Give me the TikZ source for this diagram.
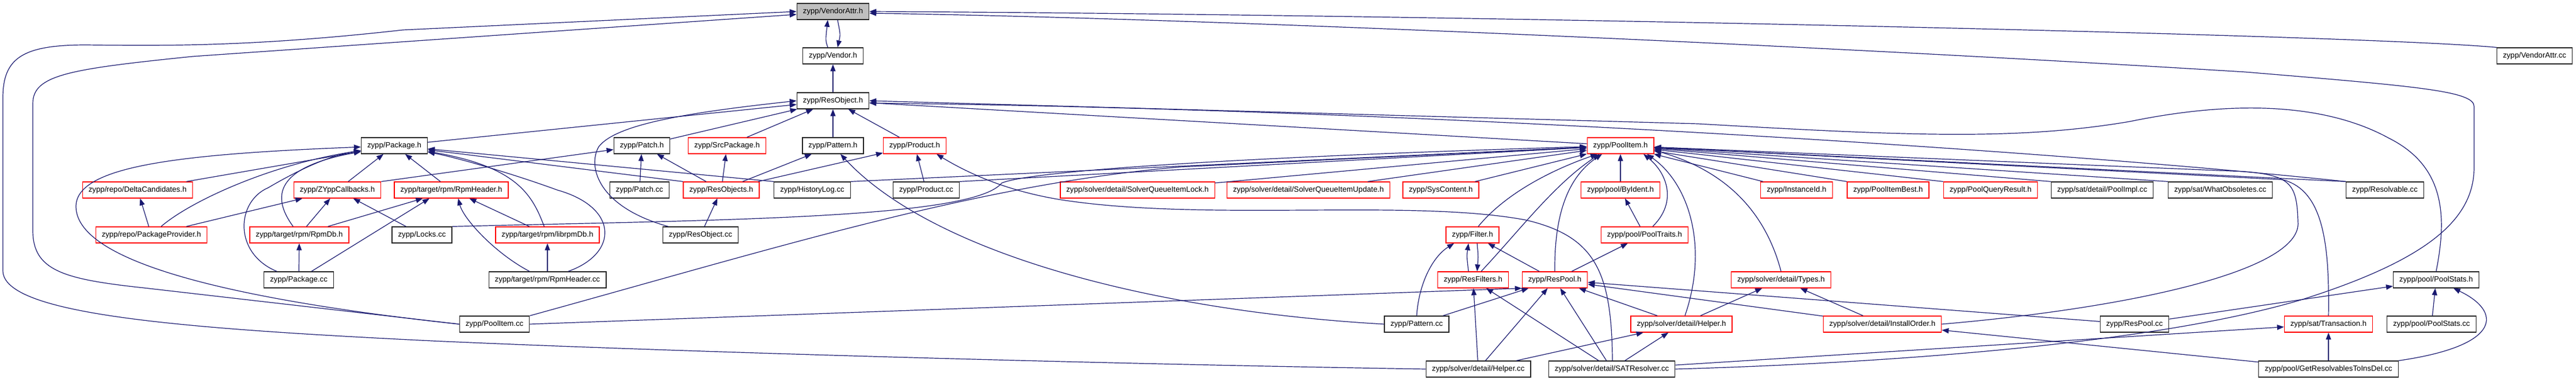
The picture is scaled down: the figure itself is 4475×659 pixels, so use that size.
\documentclass[tikz,border=0pt]{standalone}
\usepackage{fontspec}
\newfontfamily\dxsans{Liberation Sans}
\usetikzlibrary{arrows.meta}
\definecolor{edgeblue}{RGB}{25,25,112}
\definecolor{rootgray}{RGB}{191,191,191}
\tikzset{file/.style={draw=black!85, line width=1.3pt, fill=white,
      minimum height=28pt, inner xsep=10.5pt, inner ysep=0pt,
      font=\dxsans\fontsize{13.2pt}{15pt}\selectfont},
    trunc/.style={file, draw=red},
    root/.style={file, fill=rootgray},
    dep/.style={draw=edgeblue, line width=1.2pt, -{Triangle[length=12pt,width=9pt]}},
    }

\begin{document}
\begin{tikzpicture}[x=1pt,y=-1pt]
	\useasboundingbox (0,0) rectangle (4475,659);
	% row 0-2
	\node[root] (vattrh) at (1447,20) {zypp/VendorAttr.h};
	\node[file] (vendh) at (1447,97) {zypp/Vendor.h};
	\node[file] (vattrcc) at (4403,97) {zypp/VendorAttr.cc};
	\node[file] (resobjh) at (1447,175) {zypp/ResObject.h};
	% row 3
	\node[file] (pkgh) at (685,253) {zypp/Package.h};
	\node[file] (patchh) at (1115,253) {zypp/Patch.h};
	\node[trunc] (srcpkgh) at (1263,253) {zypp/SrcPackage.h};
	\node[file] (patternh) at (1447,253) {zypp/Pattern.h};
	\node[trunc] (producth) at (1589,253) {zypp/Product.h};
	\node[trunc] (poolitemh) at (2815,253) {zypp/PoolItem.h};
	% row 4
	\node[trunc] (deltah) at (239,330) {zypp/repo/DeltaCandidates.h};
	\node[trunc] (zyppcbh) at (586,330) {zypp/ZYppCallbacks.h};
	\node[trunc] (rpmheadh) at (784,330) {zypp/target/rpm/RpmHeader.h};
	\node[file] (patchcc) at (1111,330) {zypp/Patch.cc};
	\node[trunc] (resobjsh) at (1253,330) {zypp/ResObjects.h};
	\node[file] (histcc) at (1411,330) {zypp/HistoryLog.cc};
	\node[file] (productcc) at (1609,330) {zypp/Product.cc};
	\node[trunc] (sqlockh) at (1976,330) {zypp/solver/detail/SolverQueueItemLock.h};
	\node[trunc] (squpdh) at (2273,330) {zypp/solver/detail/SolverQueueItemUpdate.h};
	\node[trunc] (syscontenth) at (2503,330) {zypp/SysContent.h};
	\node[trunc] (byidenth) at (2815,330) {zypp/pool/ByIdent.h};
	\node[trunc] (instidh) at (3121,330) {zypp/InstanceId.h};
	\node[trunc] (pibesth) at (3280,330) {zypp/PoolItemBest.h};
	\node[trunc] (pqresh) at (3458,330) {zypp/PoolQueryResult.h};
	\node[file] (poolimplcc) at (3652,330) {zypp/sat/detail/PoolImpl.cc};
	\node[file] (whatobscc) at (3857,330) {zypp/sat/WhatObsoletes.cc};
	\node[file] (resolvcc) at (4143,330) {zypp/Resolvable.cc};
	% row 5
	\node[trunc] (pkgprovh) at (263,408) {zypp/repo/PackageProvider.h};
	\node[trunc] (rpmdbh) at (520,408) {zypp/target/rpm/RpmDb.h};
	\node[file] (lockscc) at (733,408) {zypp/Locks.cc};
	\node[trunc] (librpmdbh) at (951,408) {zypp/target/rpm/librpmDb.h};
	\node[file] (resobjcc) at (1217,408) {zypp/ResObject.cc};
	\node[trunc] (filterh) at (2558,408) {zypp/Filter.h};
	\node[trunc] (pooltraitsh) at (2857,408) {zypp/pool/PoolTraits.h};
	% row 6
	\node[file] (pkgcc) at (519,486) {zypp/Package.cc};
	\node[file] (rpmheadcc) at (951,486) {zypp/target/rpm/RpmHeader.cc};
	\node[trunc] (resfiltersh) at (2559,486) {zypp/ResFilters.h};
	\node[trunc] (respoolh) at (2701,486) {zypp/ResPool.h};
	\node[trunc] (typesh) at (3094,486) {zypp/solver/detail/Types.h};
	\node[file] (poolstatsh) at (4232,486) {zypp/pool/PoolStats.h};
	% row 7
	\node[file] (poolitemcc) at (859,563) {zypp/PoolItem.cc};
	\node[file] (patterncc) at (2461,563) {zypp/Pattern.cc};
	\node[trunc] (helperh) at (2921,563) {zypp/solver/detail/Helper.h};
	\node[trunc] (installorderh) at (3270,563) {zypp/solver/detail/InstallOrder.h};
	\node[file] (respoolcc) at (3708,563) {zypp/ResPool.cc};
	\node[trunc] (transh) at (4045,563) {zypp/sat/Transaction.h};
	\node[file] (poolstatscc) at (4224,563) {zypp/pool/PoolStats.cc};
	% row 8
	\node[file] (helpercc) at (2568,641) {zypp/solver/detail/Helper.cc};
	\node[file] (satcc) at (2800,641) {zypp/solver/detail/SATResolver.cc};
	\node[file] (getrescc) at (4045,641) {zypp/pool/GetResolvablesToInsDel.cc};

	% VendorAttr.h
	\draw[dep] ([xshift=-9pt]vendh.north) .. controls (1434,70) .. ([xshift=-9pt]vattrh.south);
	\draw[dep] ([xshift=8pt]vattrh.south) .. controls (1460,60) .. ([xshift=8pt]vendh.north);
	\draw[dep] (vattrcc.north west) .. controls (4100,60) and (2500,25) .. (vattrh.east);
	\draw[dep] (poolitemcc.west) -- (250,500) .. controls (110,485) and (57,470) .. (57,400) -- (57,180) .. controls (57,130) and (120,120) .. (335,98) -- ([yshift=-5pt]vattrh.west);
	\draw[dep] (helpercc.west) .. controls (1800,630) and (1100,608) .. (750,592) .. controls (300,570) and (5,545) .. (5,470) -- (5,170) .. controls (5,100) and (40,78) .. (150,78) .. controls (300,80) and (450,80) .. (700,52) -- (vattrh.west);
	\draw[dep] (satcc.east) .. controls (3300,630) and (3750,595) .. (4000,520) .. controls (4220,450) and (4298,380) .. (4298,290) -- (4298,185) .. controls (4298,158) and (4200,150) .. (3900,125) .. controls (3000,70) and (2000,30) .. ([yshift=-3pt]vattrh.east);
	\draw[dep] (resobjh) -- (vendh);

	% ResObject.h
	\draw[dep] (pkgh) -- (resobjh);
	\draw[dep] (patchh) -- (resobjh);
	\draw[dep] (srcpkgh) -- (resobjh);
	\draw[dep] (patternh) -- (resobjh);
	\draw[dep] (producth) -- (resobjh);
	\draw[dep] ([xshift=10pt]resobjcc.north west) .. controls (1040,360) and (1020,290) .. (1040,255) .. controls (1070,215) and (1200,195) .. (resobjh.west);
	\draw[dep] (poolitemh) -- (resobjh);
	\draw[dep] (resolvcc.north west) .. controls (3600,265) and (2500,190) .. ([yshift=-4pt]resobjh.east);
	\draw[dep] (poolstatsh.north) .. controls (4250,380) and (4250,290) .. (4150,240) .. controls (4050,185) and (3900,170) .. (3700,211) .. controls (3500,245) and (3300,235) .. (2950,215) -- (resobjh.east);

	% Package.h
	\draw[dep] (deltah) -- (pkgh);
	\draw[dep] (pkgprovh) .. controls (330,350) and (470,285) .. (pkgh);
	\draw[dep] (zyppcbh) -- (pkgh);
	\draw[dep] (rpmdbh) .. controls (470,340) and (480,290) .. (pkgh);
	\draw[dep] ([xshift=-38pt]pkgcc.north) .. controls (405,440) and (410,350) .. (466,326) .. controls (510,300) and (570,270) .. (pkgh);
	\draw[dep] (rpmheadh) -- (pkgh);
	\draw[dep] (resobjsh.north west) -- (pkgh);
	\draw[dep] (histcc.north west) -- (pkgh);
	\draw[dep] (librpmdbh) .. controls (925,340) and (900,290) .. (pkgh);
	\draw[dep] ([xshift=36pt]rpmheadcc.north) .. controls (1075,440) and (1075,360) .. (968,330) .. controls (900,305) and (800,275) .. (pkgh);
	\draw[dep] (poolitemcc.west) .. controls (400,520) and (135,455) .. (132,360) .. controls (130,290) and (300,268) .. (pkgh);

	% rpm and repo headers
	\draw[dep] (pkgprovh) -- (deltah);
	\draw[dep] (pkgprovh) -- (zyppcbh);
	\draw[dep] (rpmdbh) -- (zyppcbh);
	\draw[dep] (lockscc) -- (zyppcbh);
	\draw[dep] (rpmdbh) -- (rpmheadh);
	\draw[dep] ([xshift=22pt]pkgcc.north) -- ([xshift=-38pt]rpmheadh.south);
	\draw[dep] (librpmdbh) -- (rpmheadh);
	\draw[dep] ([xshift=-31pt]rpmheadcc.north) .. controls (860,440) and (805,380) .. ([xshift=12pt]rpmheadh.south);
	\draw[dep] (pkgcc) -- (rpmdbh);
	\draw[dep] (rpmheadcc) -- (librpmdbh);

	% Patch.h, SrcPackage.h, Pattern.h, Product.h
	\draw[dep] (zyppcbh.north east) -- (patchh);
	\draw[dep] (patchcc) -- (patchh);
	\draw[dep] (resobjsh) -- (patchh);
	\draw[dep] (resobjsh) -- (srcpkgh);
	\draw[dep] (resobjsh) -- (patternh);
	\draw[dep] (resobjsh) -- (producth);
	\draw[dep] (resobjcc) -- (resobjsh);
	\draw[dep] (patterncc.west) .. controls (2000,540) and (1620,440) .. ([xshift=13pt]patternh.south);
	\draw[dep] (productcc) -- (producth);
	\draw[dep] ([xshift=1pt]satcc.north) .. controls (2800,470) and (2770,410) .. (2650,382) .. controls (2450,345) and (2100,385) .. (1850,348) .. controls (1750,333) and (1680,300) .. ([xshift=38pt]producth.south);

	% PoolItem.h
	\draw[dep] (lockscc.north east) .. controls (1250,382) and (1690,380) .. (1740,318) .. controls (1800,292) and (2300,268) .. (poolitemh);
	\draw[dep] (poolitemcc.north east) .. controls (1350,430) and (1700,320) .. (2050,290) -- (poolitemh);
	\draw[dep] (histcc.north east) -- (poolitemh);
	\draw[dep] (productcc.north east) -- (poolitemh);
	\draw[dep] (sqlockh) -- (poolitemh);
	\draw[dep] (squpdh) -- (poolitemh);
	\draw[dep] (syscontenth) -- (poolitemh);
	\draw[dep] ([xshift=10pt]filterh.north) .. controls (2620,330) and (2710,290) .. ([xshift=-40pt]poolitemh.south);
	\draw[dep] ([xshift=14pt]resfiltersh.north) .. controls (2640,400) and (2700,320) .. ([xshift=-36pt]poolitemh.south);
	\draw[dep] (respoolh.north) .. controls (2700,380) and (2720,310) .. ([xshift=-32pt]poolitemh.south);
	\draw[dep] (byidenth) -- (poolitemh);
	\draw[dep] ([xshift=14pt]pooltraitsh.north) .. controls (2915,350) and (2895,300) .. ([xshift=40pt]poolitemh.south);
	\draw[dep] ([xshift=6pt]helperh.north) .. controls (2968,430) and (2935,320) .. ([xshift=46pt]poolitemh.south);
	\draw[dep] (typesh.north) .. controls (3070,380) and (3010,300) .. ([yshift=-8pt]poolitemh.east);
	\draw[dep] (instidh) -- (poolitemh);
	\draw[dep] (pibesth.north west) -- (poolitemh);
	\draw[dep] (pqresh.north west) -- (poolitemh);
	\draw[dep] (poolimplcc.north west) -- (poolitemh);
	\draw[dep] (whatobscc.north west) -- (poolitemh);
	\draw[dep] (resolvcc.north west) -- (poolitemh);
	\draw[dep] (installorderh.east) .. controls (3700,535) and (4000,470) .. (3992,385) .. controls (3990,320) and (3980,305) .. (3900,298) -- (poolitemh);
	\draw[dep] (transh.north) .. controls (4047,420) and (4035,330) .. (3965,312) -- (poolitemh);

	% pool and solver headers
	\draw[dep] (pooltraitsh) -- (byidenth);
	\draw[dep] (respoolh) -- (pooltraitsh);
	\draw[dep] ([xshift=-8pt]resfiltersh.north) .. controls (2548,445) .. ([xshift=-7pt]filterh.south);
	\draw[dep] ([xshift=8pt]filterh.south) .. controls (2568,445) .. ([xshift=7pt]resfiltersh.north);
	\draw[dep] (patterncc.north) .. controls (2465,490) and (2490,445) .. ([xshift=-32pt]filterh.south);
	\draw[dep] (respoolh) -- (filterh);
	\draw[dep] (helpercc) -- (resfiltersh);
	\draw[dep] (satcc) -- (resfiltersh);
	\draw[dep] (patterncc) -- (respoolh);
	\draw[dep] (helpercc) -- (respoolh);
	\draw[dep] (satcc) -- (respoolh);
	\draw[dep] (helperh) -- (respoolh);
	\draw[dep] (poolitemcc.east) -- (respoolh.south west);
	\draw[dep] (respoolcc) -- (respoolh);
	\draw[dep] (installorderh) -- (respoolh);
	\draw[dep] (helpercc) -- (helperh);
	\draw[dep] (satcc) -- (helperh);
	\draw[dep] (helperh) -- (typesh);
	\draw[dep] (installorderh) -- (typesh);
	\draw[dep] (getrescc) -- (installorderh);
	\draw[dep] (satcc) -- (transh);
	\draw[dep] (getrescc) -- (transh);
	\draw[dep] (respoolcc) -- (poolstatsh);
	\draw[dep] (poolstatscc) -- (poolstatsh);
	\draw[dep] (getrescc.north east) .. controls (4350,600) and (4345,540) .. ([xshift=30pt]poolstatsh.south);
\end{tikzpicture}
\end{document}
